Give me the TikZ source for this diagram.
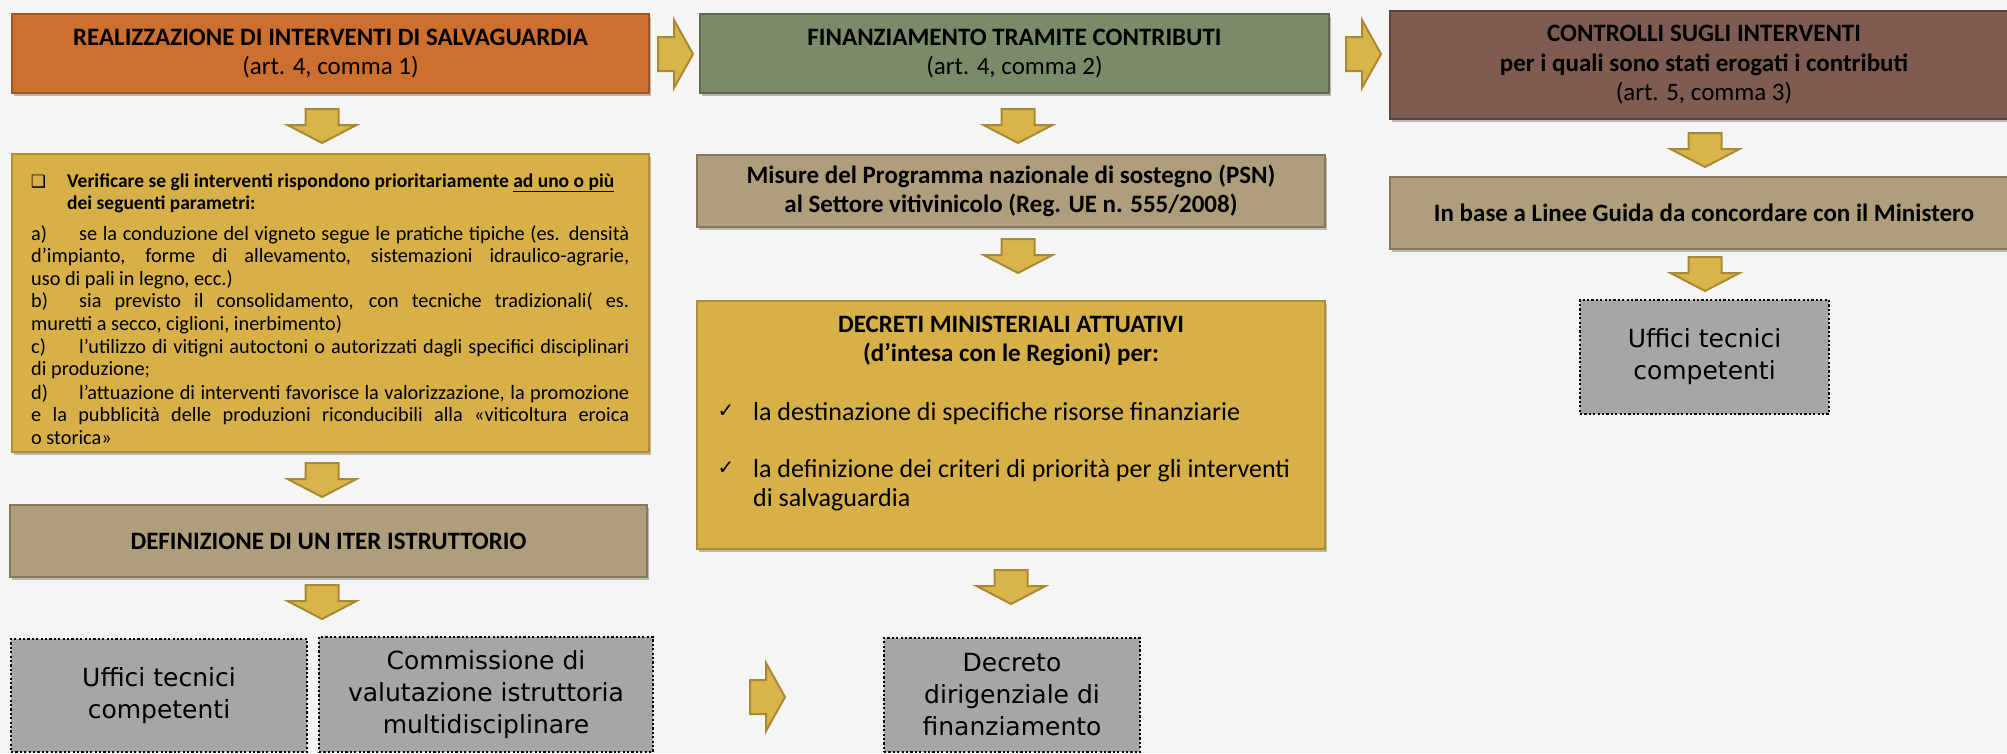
\documentclass[tikz,border=0pt]{standalone}
\usepackage{fontspec}
\setmainfont{Carlito}
\newfontfamily\djv{DejaVu Sans}
\usetikzlibrary{shadows}
\definecolor{bg}{HTML}{F5F5F3}
\definecolor{orangeF}{HTML}{CD6F2E}
\definecolor{orangeB}{HTML}{9E5526}
\definecolor{greenF}{HTML}{7B8B69}
\definecolor{greenB}{HTML}{5D6A4E}
\definecolor{brownF}{HTML}{7E5C52}
\definecolor{brownB}{HTML}{5F433A}
\definecolor{tanF}{HTML}{AE9E7B}
\definecolor{tanB}{HTML}{877858}
\definecolor{yelF}{HTML}{D7B048}
\definecolor{yelB}{HTML}{B08E35}
\definecolor{arrF}{HTML}{D9B448}
\definecolor{arrB}{HTML}{A88A36}
\definecolor{grayF}{HTML}{A6A6A6}
\newcommand\tfont{\fontsize{25}{29.5}\selectfont}
\newcommand\bfont{\fontsize{26}{29}\selectfont}
\newcommand\ifont{\fontsize{20.3}{22.4}\selectfont}
\newcommand\gfont{\djv\fontsize{25}{32}\selectfont}
\newcommand\lab[1]{\noindent\hangindent=48pt\hangafter=1\makebox[48pt][l]{#1}}
\hfuzz=20pt
\begin{document}
\begin{tikzpicture}[x=1pt,y=-1pt,
  box/.style={draw, line width=2.5pt, inner sep=0pt, outer sep=0pt, anchor=north west,
    align=center, font=\tfont,
    drop shadow={shadow xshift=2pt,shadow yshift=-2.5pt,opacity=0.25,fill=black}},
  gbox/.style={draw=black, fill=grayF, line width=2.2pt, dash pattern=on 2.2pt off 2.2pt,
    anchor=north west, inner sep=0pt, outer sep=0pt, align=center, font=\gfont},
  itm/.style={anchor=west, inner sep=0pt, text width=598pt, align=justify, font=\ifont},
  arrowst/.style={fill=arrF, draw=arrB, line width=2pt, line join=miter},
  darr/.pic={\path[arrowst] (-16.5,0) -- (16.5,0) -- (16.5,16) -- (34.5,16) -- (0,34)
     -- (-34.5,16) -- (-16.5,16) -- cycle;},
  rarr/.pic={\path[arrowst] (0,-17) -- (16,-17) -- (16,-34) -- (35,0) -- (16,34)
     -- (16,17) -- (0,17) -- cycle;}
]
\useasboundingbox (0,0) rectangle (2007,753);
\fill[bg] (0,0) rectangle (2007,753);

% column 1
\node[box, fill=orangeF, draw=orangeB, minimum width=637pt, minimum height=79pt] (b1) at (12,14)
  {\textbf{REALIZZAZIONE DI INTERVENTI DI SALVAGUARDIA}\\(art. 4, comma 1)};
\node[box, fill=yelF, draw=yelB, minimum width=637pt, minimum height=298pt] (y1) at (12,154) {};
\node[font=\djv\fontsize{17}{17}\selectfont, inner sep=0pt] (chk) at (38.5,182) {❑};
\node[anchor=west, align=left, inner sep=0pt, font=\bfseries\fontsize{19.5}{22}\selectfont] (hdr) at (67,193)
  {Verificare se gli interventi rispondono prioritariamente \underline{ad uno o più}\\dei seguenti parametri:};
\node[itm] (ia) at (31,257) {\lab{a)}se la conduzione del vigneto segue le pratiche tipiche (es. densità\linebreak
  d’impianto, forme di allevamento, sistemazioni idraulico-agrarie,\linebreak uso di pali in legno, ecc.)};
\node[itm] (ib) at (31,313.5) {\lab{b)}sia previsto il consolidamento, con tecniche tradizionali( es.\linebreak
  muretti a secco, ciglioni, inerbimento)};
\node[itm] (ic) at (31,358.5) {\lab{c)}l’utilizzo di vitigni autoctoni o autorizzati dagli specifici disciplinari\linebreak
  di produzione;};
\node[itm] (id) at (31,414.5) {\lab{d)}l’attuazione di interventi favorisce la valorizzazione, la promozione\linebreak
  e la pubblicità delle produzioni riconducibili alla «viticoltura eroica\linebreak o storica»};
\node[box, fill=tanF, draw=tanB, minimum width=637pt, minimum height=72pt] (def) at (10,505)
  {\textbf{DEFINIZIONE DI UN ITER ISTRUTTORIO}};
\node[gbox, minimum width=296pt, minimum height=113pt] (g1) at (11,639) {Uffici tecnici\\competenti};
\node[gbox, minimum width=334pt, minimum height=115pt] (g2) at (319,637)
  {Commissione di\\valutazione istruttoria\\multidisciplinare};

\pic at (322,109) {darr};
\pic at (322,463) {darr};
\pic at (322,585) {darr};

% column 2
\node[box, fill=greenF, draw=greenB, minimum width=629pt, minimum height=79pt] (b2) at (700,14)
  {\textbf{FINANZIAMENTO TRAMITE CONTRIBUTI}\\(art. 4, comma 2)};
\node[box, fill=tanF, draw=tanB, minimum width=628pt, minimum height=72pt] (mis) at (697,155)
  {\textbf{Misure del Programma nazionale di sostegno (PSN)}\\\textbf{al Settore vitivinicolo (Reg. UE n. 555/2008)}};
\node[box, fill=yelF, draw=yelB, minimum width=628pt, minimum height=248pt] (dec) at (697,301) {};
\node[font=\tfont\bfseries, align=center, inner sep=0pt] (dect) at (1011,341)
  {DECRETI MINISTERIALI ATTUATIVI\\(d’intesa con le Regioni) per:};
\node[font=\djv\fontsize{20}{20}\selectfont, inner sep=0pt] (ck1) at (726,411) {✓};
\node[font=\djv\fontsize{20}{20}\selectfont, inner sep=0pt] (ck2) at (726,468) {✓};
\node[anchor=west, font=\bfont, inner sep=0pt] (d1) at (753,414) {la destinazione di specifiche risorse finanziarie};
\node[anchor=west, font=\bfont, align=left, inner sep=0pt] (d2) at (753,485)
  {la definizione dei criteri di priorità per gli interventi\\di salvaguardia};
\node[gbox, minimum width=256pt, minimum height=114pt] (g3) at (884,638)
  {Decreto\\dirigenziale di\\finanziamento};

\pic at (1018,109) {darr};
\pic at (1018,239) {darr};
\pic at (1011,570) {darr};
\pic at (750,697) {rarr};

% column 3
\node[box, fill=brownF, draw=brownB, minimum width=628pt, minimum height=108pt] (b3) at (1390,11)
  {\textbf{CONTROLLI SUGLI INTERVENTI}\\\textbf{per i quali sono stati erogati i contributi}\\(art. 5, comma 3)};
\node[box, fill=tanF, draw=tanB, minimum width=628pt, minimum height=72pt] (inb) at (1390,177)
  {\textbf{In base a Linee Guida da concordare con il Ministero}};
\node[gbox, minimum width=249pt, minimum height=114pt] (g4) at (1580,300) {Uffici tecnici\\competenti};

\pic at (1705,133) {darr};
\pic at (1705,257) {darr};

\pic at (658,54) {rarr};
\pic at (1346,54) {rarr};
\end{tikzpicture}
\end{document}
